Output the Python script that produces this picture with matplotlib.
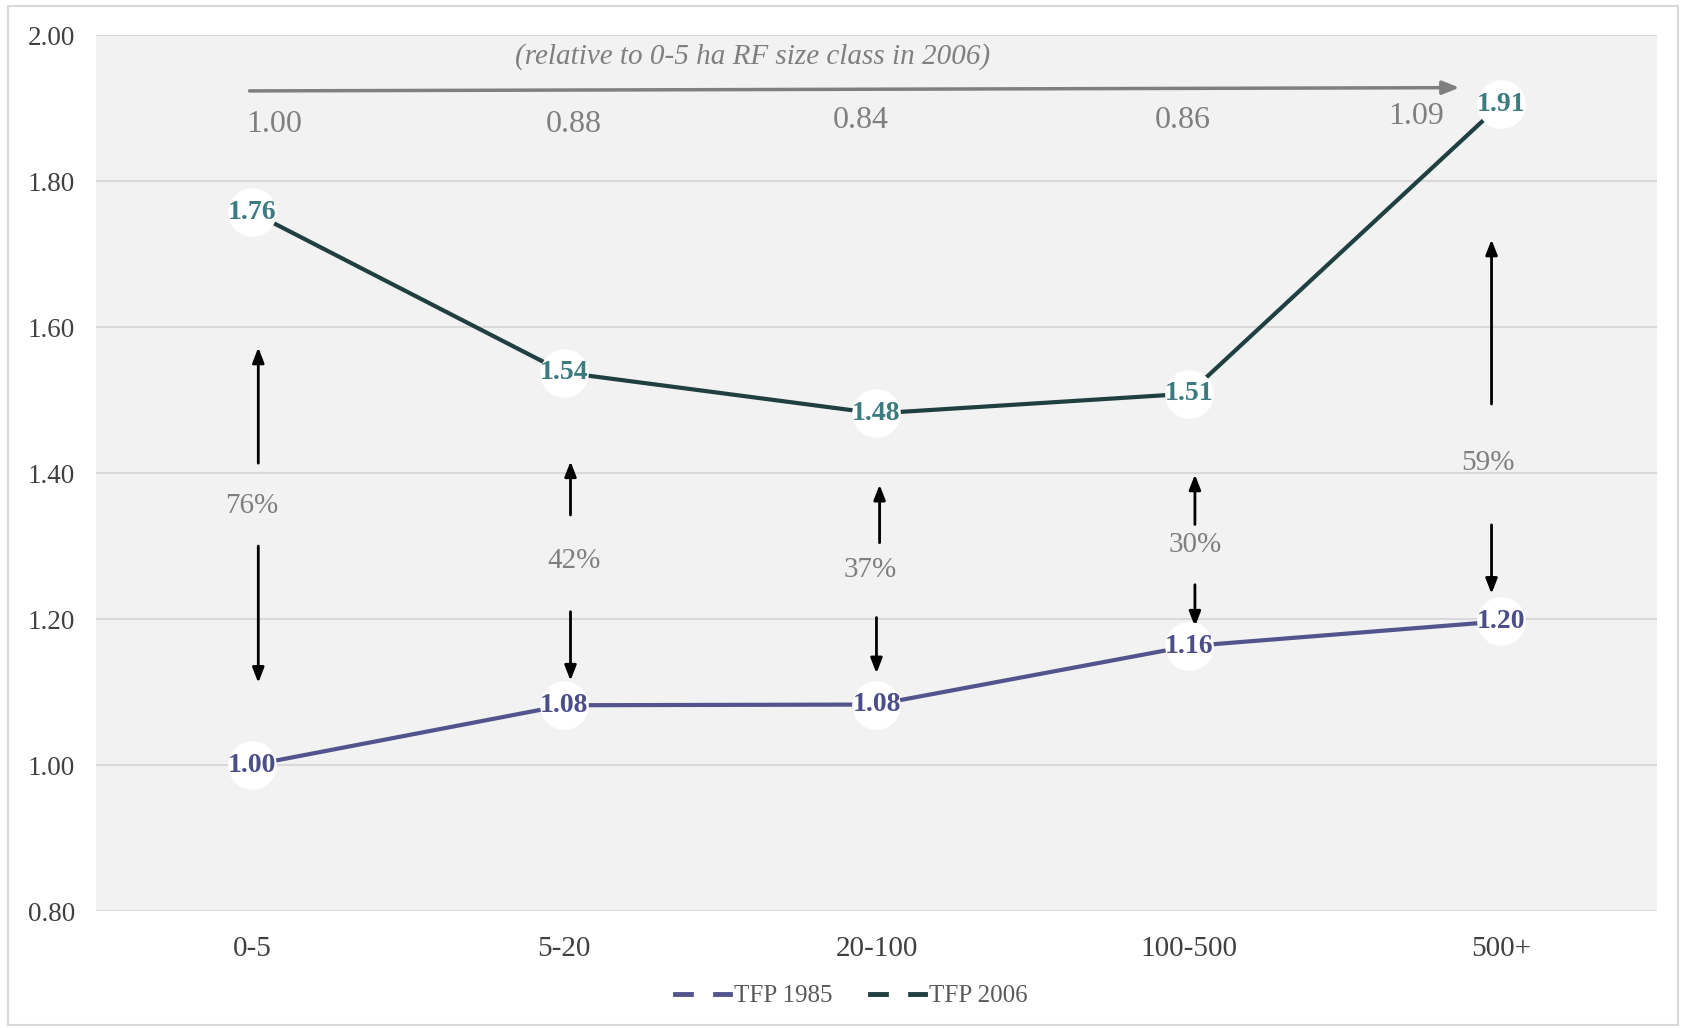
import matplotlib
matplotlib.use("Agg")
import matplotlib.pyplot as plt
from matplotlib.patches import Rectangle
from matplotlib.lines import Line2D

plt.rcParams['font.family'] = ['Liberation Serif', 'DejaVu Serif']

sizes = ['0-5', '5-20', '20-100', '100-500', '500+']
tfp_1985 = [1.00, 1.082, 1.083, 1.163, 1.197]
tfp_2006 = [1.758, 1.538, 1.482, 1.509, 1.906]
growth = ['76%', '42%', '37%', '30%', '59%']
rel_2006 = ['1.00', '0.88', '0.84', '0.86', '1.09']

# gap arrows between the two series: (x, tail, head) in data units
up_arrows = [(0.02, 1.410, 1.576), (1.02, 1.339, 1.420), (2.01, 1.301, 1.388),
             (3.02, 1.326, 1.402), (3.97, 1.491, 1.724)]
down_arrows = [(0.02, 1.304, 1.109), (1.02, 1.214, 1.112), (2.00, 1.206, 1.122),
               (3.02, 1.251, 1.186), (3.97, 1.333, 1.231)]
growth_pos = [(0.0, 1.355), (1.03, 1.280), (1.98, 1.267), (3.02, 1.301), (3.96, 1.414)]
rel_pos = [(0.07, 1.878), (1.03, 1.878), (1.95, 1.883), (2.98, 1.883), (3.73, 1.889)]

c85 = '#52548e'
c06 = '#1f3f40'
lab85 = '#4c4e8a'
lab06 = '#3c7b80'
grey = '#7f7f7f'

fig = plt.figure(figsize=(16.86, 10.28), dpi=100)
fig.patches.append(Rectangle((0.005, 0.003), 0.99, 0.991, transform=fig.transFigure,
                             fill=False, edgecolor='#d9d9d9', linewidth=1.5))
ax = fig.add_axes([0.0569, 0.1138, 0.9259, 0.8517])
ax.set_facecolor('#f2f2f2')

x = range(len(sizes))
ax.plot(x, tfp_1985, color=c85, lw=3, zorder=3)
ax.plot(x, tfp_2006, color=c06, lw=3, zorder=3)
ax.scatter(x, tfp_1985, s=34**2, color='white', zorder=4)
ax.scatter(x, tfp_2006, s=34**2, color='white', zorder=4)
for i in x:
    ax.text(i, tfp_1985[i], f'{tfp_1985[i]:.2f}', ha='center', va='center',
            color=lab85, fontsize=20, fontweight='bold', zorder=5)
    ax.text(i, tfp_2006[i], f'{tfp_2006[i]:.2f}', ha='center', va='center',
            color=lab06, fontsize=20, fontweight='bold', zorder=5)

arrow = dict(arrowstyle='-|>,head_length=0.9,head_width=0.35', color='black', lw=2)
for xa, y0, y1 in up_arrows + down_arrows:
    ax.annotate('', xy=(xa, y1), xytext=(xa, y0), arrowprops=arrow, zorder=2)
for (xt, yt), s in zip(growth_pos, growth):
    ax.text(xt, yt, s, ha='center', va='center', color=grey, fontsize=21)

ax.annotate('', xy=(3.876, 1.9285), xytext=(-0.017, 1.924),
            arrowprops=dict(arrowstyle='-|>,head_length=1.0,head_width=0.4',
                            color=grey, lw=2.5))
ax.text(1.604, 1.971, '(relative to 0-5 ha RF size class in 2006)', ha='center',
        va='center', color=grey, fontsize=21, style='italic')
for (xt, yt), s in zip(rel_pos, rel_2006):
    ax.text(xt, yt, s, ha='center', va='center', color=grey, fontsize=23)

ax.set_xlim(-0.5, len(sizes) - 0.5)
ax.set_ylim(0.8, 2.0)
ax.set_yticks([0.8, 1.0, 1.2, 1.4, 1.6, 1.8, 2.0])
ax.set_yticklabels([f'{v:.2f}' for v in ax.get_yticks()])
ax.set_xticks(list(x))
ax.set_xticklabels(sizes)
ax.tick_params(axis='y', length=0, pad=15, labelsize=19.5, labelcolor='#404040')
ax.tick_params(axis='x', length=0, pad=18, labelsize=21, labelcolor='#404040')
ax.grid(axis='y', color='#d9d9d9', lw=1.5)
ax.set_axisbelow(True)
for sp in ax.spines.values():
    sp.set_visible(False)

handles = [Line2D([], [], color=c85, lw=3.5, marker='o', ms=13, mfc='white', mec='white'),
           Line2D([], [], color=c06, lw=3.5, marker='o', ms=13, mfc='white', mec='white')]
fig.legend(handles, ['TFP 1985', 'TFP 2006'], loc='center', bbox_to_anchor=(0.505, 0.031),
           ncol=2, frameon=False, fontsize=18, handlelength=2.2, handletextpad=0.15,
           columnspacing=1.5, labelcolor='#595959')

fig.savefig('out.png', dpi=100)
